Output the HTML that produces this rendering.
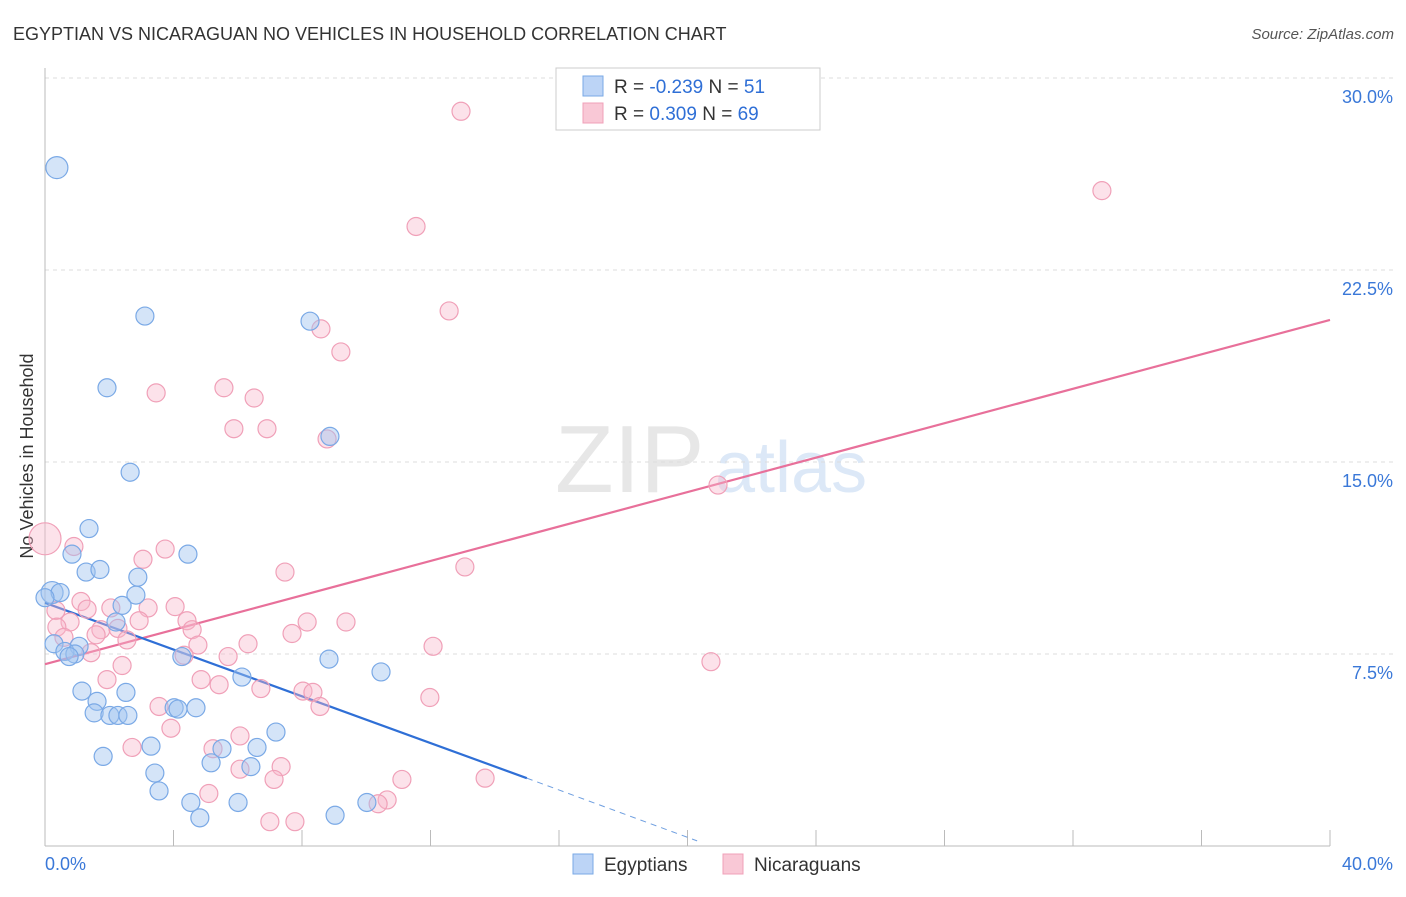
<!DOCTYPE html>
<html><head><meta charset="utf-8"><style>
body{margin:0;background:#fff;font-family:"Liberation Sans",sans-serif}
svg text{font-family:"Liberation Sans",sans-serif}
</style></head><body>
<svg id="chart" width="1406" height="892" viewBox="0 0 1406 892">
<text x="13" y="40" font-size="18" fill="#333">EGYPTIAN VS NICARAGUAN NO VEHICLES IN HOUSEHOLD CORRELATION CHART</text>
<text x="1394" y="39" font-size="15" fill="#555" text-anchor="end" font-style="italic">Source: ZipAtlas.com</text>
<text transform="translate(33,456) rotate(-90)" font-size="18" fill="#333" text-anchor="middle">No Vehicles in Household</text>
<g opacity="0.35">
<text x="555" y="492" font-size="96" fill="#bbb" font-family="Liberation Serif">ZIP</text>
<text x="715" y="492" font-size="72" fill="#9cc0ea">atlas</text>
</g>
<g id="grid"></g><g id="axes"></g><g id="lines"></g><g id="pts"></g>
<g>
<rect x="556" y="68" width="264" height="62" fill="#fff" stroke="#ccc"/>
<rect x="583" y="76" width="20" height="20" fill="#bcd4f6" stroke="#7aa9e6"/>
<rect x="583" y="103" width="20" height="20" fill="#f9c8d6" stroke="#f0a0b8"/>
<text x="614" y="93" font-size="19" fill="#333">R = <tspan fill="#2f6fd6">-0.239</tspan>   N =  <tspan fill="#2f6fd6">51</tspan></text>
<text x="614" y="120" font-size="19" fill="#333">R =  <tspan fill="#2f6fd6"> 0.309</tspan>   N = <tspan fill="#2f6fd6">69</tspan></text>
</g>
<g>
<rect x="573" y="854" width="20" height="20" fill="#bcd4f6" stroke="#7aa9e6"/>
<text x="604" y="871" font-size="19" fill="#333">Egyptians</text>
<rect x="723" y="854" width="20" height="20" fill="#f9c8d6" stroke="#f0a0b8"/>
<text x="754" y="871" font-size="19" fill="#333">Nicaraguans</text>
</g>
</svg>
<script>
const yTicks=[7.5,15,22.5,30];
const yTickLabels=["7.5%","15.0%","22.5%","30.0%"];
const xTicks=[0,4,8,12,16,20,24,28,32,36,40];
const blueX=[0.37,0.22,3.11,1.93,2.65,8.25,8.87,1.37,0.84,4.45,1.28,1.71,2.89,2.83,2.40,0.47,0,2.21,0.28,1.06,0.62,0.93,0.75,4.26,8.84,10.46,6.13,1.15,2.52,1.62,1.53,2.02,2.27,2.58,4.02,4.14,4.70,7.19,3.30,5.51,6.60,1.81,5.17,6.41,3.42,3.55,4.54,6.01,10.02,4.82,9.03];
const blueY=[26.5,9.9,20.7,17.9,14.6,20.5,16.0,12.4,11.4,11.4,10.7,10.8,10.5,9.8,9.4,9.9,9.7,8.75,7.9,7.8,7.6,7.5,7.4,7.4,7.3,6.8,6.6,6.05,6.0,5.65,5.2,5.1,5.1,5.1,5.4,5.35,5.4,4.45,3.9,3.8,3.85,3.5,3.25,3.1,2.85,2.15,1.7,1.7,1.7,1.1,1.2];
const pinkX=[12.95,32.9,11.55,12.58,8.59,9.21,3.46,5.57,6.51,5.88,6.91,8.78,0,0.9,3.74,3.05,7.47,13.07,20.95,1.12,0.34,1.31,2.05,3.21,4.05,0.78,0.37,4.42,2.93,8.16,9.37,1.74,2.27,4.58,1.59,7.69,0.59,2.55,4.76,6.32,12.08,1.43,4.33,5.70,2.40,20.73,1.93,4.86,5.42,6.72,8.03,8.34,8.56,11.98,3.55,3.92,6.07,5.23,2.71,7.35,6.07,7.13,11.11,13.7,5.1,10.65,10.37,7.0,7.78];
const pinkY=[28.7,25.6,24.2,20.9,20.2,19.3,17.7,17.9,17.5,16.3,16.3,15.9,12.0,11.7,11.6,11.2,10.7,10.9,14.1,9.55,9.2,9.25,9.3,9.3,9.35,8.75,8.55,8.8,8.8,8.75,8.75,8.45,8.5,8.45,8.25,8.3,8.15,8.05,7.85,7.9,7.8,7.55,7.45,7.4,7.05,7.2,6.5,6.5,6.3,6.15,6.05,6.0,5.45,5.8,5.45,4.6,4.3,3.8,3.85,3.1,3.0,2.6,2.6,2.65,2.05,1.8,1.65,0.95,0.95];
const blueBig=[0,1];const pinkBig=[12];
const blueTrend=[[0,9.5],[15,2.65]];const blueTrendExt=[[15,2.65],[20.3,0.2]];
const pinkTrend=[[0,7.1],[40,20.55]];
const X=v=>45+v*32.125, Y=v=>846-v*25.6;
const NS="http://www.w3.org/2000/svg";
function mk(t,a,p){const e=document.createElementNS(NS,t);for(const k in a)e.setAttribute(k,a[k]);p.appendChild(e);return e;}
const grid=document.getElementById('grid'),axes=document.getElementById('axes'),lines=document.getElementById('lines'),pts=document.getElementById('pts');
yTicks.forEach((t,i)=>{const l=mk('line',{x1:45,x2:1393,y1:Y(t),y2:Y(t),stroke:'#ddd','stroke-dasharray':'4,4'},grid);


const tx=mk('text',{x:1393,y:Y(t)+25,'font-size':18,fill:'#3a78d8','text-anchor':'end'},grid);tx.textContent=yTickLabels[i];

});
const ya=mk('line',{x1:45,x2:45,y1:68,y2:846,stroke:'#bbb'},axes);


const xa=mk('line',{x1:45,x2:1330,y1:846,y2:846,stroke:'#bbb'},axes);


xTicks.forEach(t=>{const l=mk('line',{x1:X(t),x2:X(t),y1:830,y2:846,stroke:'#bbb'},axes);

});
[["0.0%",45,'start'],["40.0%",1393,'end']].forEach(d=>{const tx=mk('text',{x:d[1],y:870,'font-size':18,fill:'#3a78d8','text-anchor':d[2]},axes);tx.textContent=d[0];

});
function ln(s,c,dash,name){const e=mk('line',{x1:X(s[0][0]),y1:Y(s[0][1]),x2:X(s[1][0]),y2:Y(s[1][1]),stroke:c,'stroke-width':dash?1:2.2},lines);if(dash)e.setAttribute('stroke-dasharray','6,5');

}
function dots(xs,ys,big,fill,stroke,name){xs.forEach((x,i)=>{const c=mk('circle',{cx:X(x),cy:Y(ys[i]),r:big.includes(i)?(name==='nicaraguan-point'?16:11):9,fill:fill,stroke:stroke,'stroke-width':1.2},pts);

});}
dots(pinkX,pinkY,pinkBig,'rgba(248,182,202,0.4)','#f0a0b8','nicaraguan-point');
dots(blueX,blueY,blueBig,'rgba(160,196,240,0.45)','#7aa9e6','egyptian-point');
ln(pinkTrend,'#e8709a',false,'nicaraguan-trendline');
ln(blueTrend,'#2f6fd6',false,'egyptian-trendline');
ln(blueTrendExt,'#6f9fe0',true,'egyptian-trendline-extension');
</script>
</body></html>
